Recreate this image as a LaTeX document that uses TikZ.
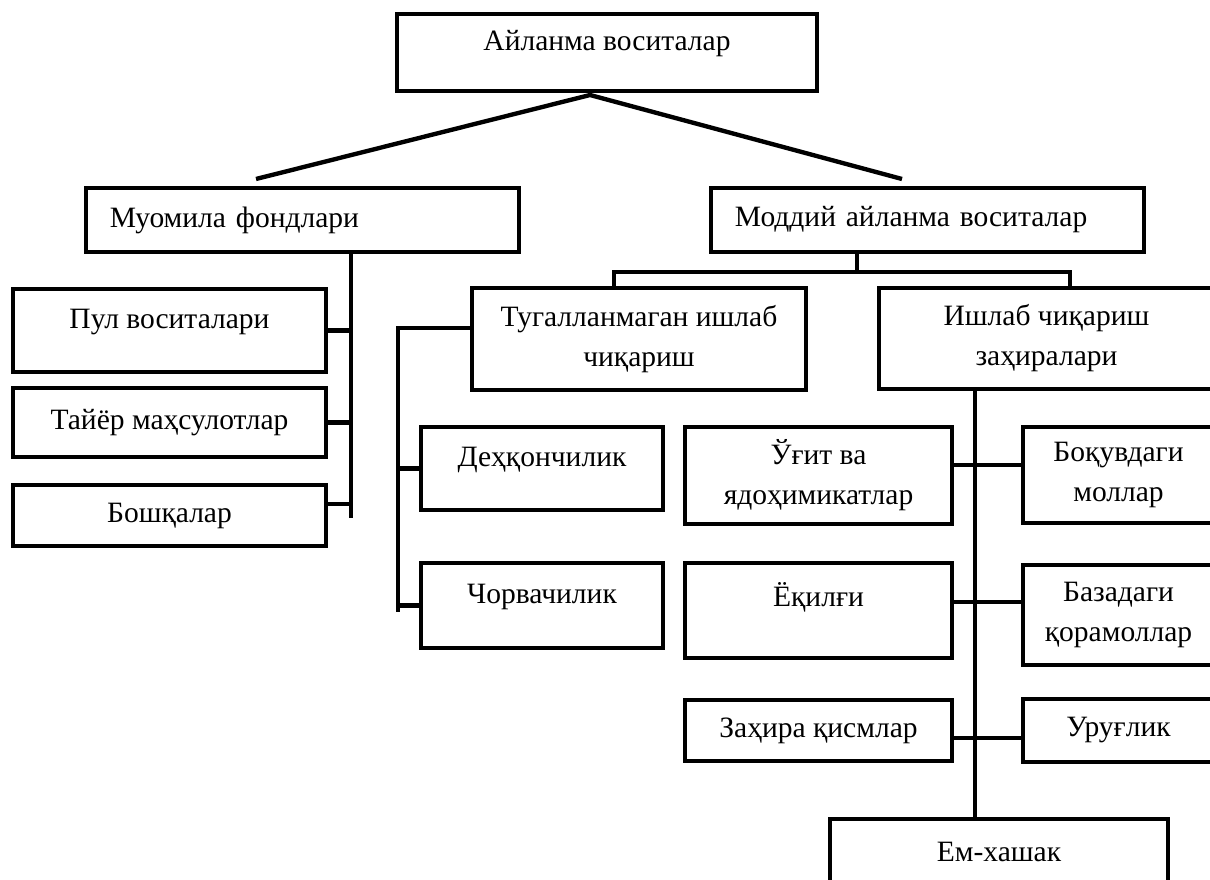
\documentclass[tikz,border=0pt]{standalone}
\usepackage{fontspec}
\setmainfont{Liberation Serif}
\usepackage{tikz}
\usetikzlibrary{calc}
\tikzstyle{box} = [draw, line width=3.1pt, inner sep=0pt, align=center, font=\fontsize{21}{28.45}\selectfont]
\tikzstyle{lift} = [text depth=0.6cm]
\tikzstyle{line} = [line width=3.1pt]

\begin{document}
\begin{tikzpicture}[x=0.025cm, y=-0.025cm]
    \useasboundingbox (0,0) rectangle (1210,880);
    \clip (0,0) rectangle (1210,880);

    % top level
    \node[box, lift, minimum width=10.5cm, minimum height=1.925cm] (top) at (607,52.5) {Айланма воситалар};
    \node[box, minimum width=10.825cm, minimum height=1.6cm, text width=9.625cm, align=left] (muom) at (302.5,220) {Муомила фондлари};
    \node[box, minimum width=10.825cm, minimum height=1.6cm, text width=9.625cm, align=left] (modd) at (927.5,220) {Моддий айланма воситалар};

    \coordinate (apex) at (590,95);
    \coordinate (lfree) at (256,179);
    \coordinate (rfree) at (902,179);
    \draw[line] (lfree) -- (apex) -- (rfree);

    % left column
    \node[box, lift, minimum width=7.825cm, minimum height=2.075cm] (pul) at (169.5,330.5) {Пул воситалари};
    \node[box, minimum width=7.825cm, minimum height=1.725cm] (tayor) at (169.5,422.5) {Тайёр маҳсулотлар};
    \node[box, minimum width=7.825cm, minimum height=1.525cm] (bosh) at (169.5,515.5) {Бошқалар};

    \coordinate (muomend) at (351,518);
    \coordinate (boshb) at (351,504);
    \draw[line] (muomend |- muom.south) -- (muomend);
    \draw[line] (pul.east) -- (pul.east -| muomend);
    \draw[line] (tayor.east) -- (tayor.east -| muomend);
    \draw[line] (boshb -| bosh.east) -- (boshb);

    % second level
    \node[box, minimum width=8.35cm, minimum height=2.55cm] (tug) at (639,339) {Тугалланмаган ишлаб\\чиқариш};
    \node[box, minimum width=8.375cm, minimum height=2.525cm] (zax) at (1046.5,338.5) {Ишлаб чиқариш\\заҳиралари};

    \coordinate (barm) at (857,272);
    \coordinate (barl) at (614,272);
    \coordinate (barr) at (1070,272);
    \draw[line] (barm |- modd.south) -- (barm);
    \draw[line] (barl |- tug.north) -- (barl) -- (barr) -- (barr |- zax.north);

    % under tug
    \node[box, lift, minimum width=6.05cm, minimum height=2.075cm] (dehq) at (542,468.5) {Деҳқончилик};
    \node[box, lift, minimum width=6.05cm, minimum height=2.125cm] (chorva) at (542,605.5) {Чорвачилик};

    \coordinate (tugb) at (398,328);
    \coordinate (tugend) at (398,612);
    \draw[line] (tugb -| tug.west) -- (tugb) -- (tugend);
    \draw[line] (dehq.west) -- (dehq.west -| tugend);
    \draw[line] (chorva.west) -- (chorva.west -| tugend);

    % under zax
    \node[box, minimum width=6.675cm, minimum height=2.425cm] (ugit) at (818.5,475.5) {Ўғит ва\\ядоҳимикатлар};
    \node[box, lift, text depth=0.8cm, minimum width=6.675cm, minimum height=2.375cm] (yoq) at (818.5,610.5) {Ёқилғи};
    \node[box, minimum width=6.675cm, minimum height=1.525cm] (qism) at (818.5,730.5) {Заҳира қисмлар};
    \node[box, minimum width=4.775cm, minimum height=2.4cm] (boq) at (1118.5,475) {Боқувдаги\\моллар};
    \node[box, minimum width=4.775cm, minimum height=2.5cm] (baza) at (1118.5,615) {Базадаги\\қорамоллар};
    \node[box, minimum width=4.775cm, minimum height=1.575cm] (urug) at (1118.5,730.5) {Уруғлик};
    \node[box, minimum width=8.45cm, minimum height=1.625cm] (em) at (999,851.5) {Ем-хашак};

    \coordinate (zaxv) at (975,0);
    \coordinate (b1) at (975,465);
    \coordinate (b2) at (975,602);
    \coordinate (b3) at (975,738);
    \draw[line] (zaxv |- zax.south) -- (zaxv |- em.north);
    \draw[line] (b1 -| ugit.east) -- (b1 -| boq.west);
    \draw[line] (b2 -| yoq.east) -- (b2 -| baza.west);
    \draw[line] (b3 -| qism.east) -- (b3 -| urug.west);

\end{tikzpicture}
\end{document}
